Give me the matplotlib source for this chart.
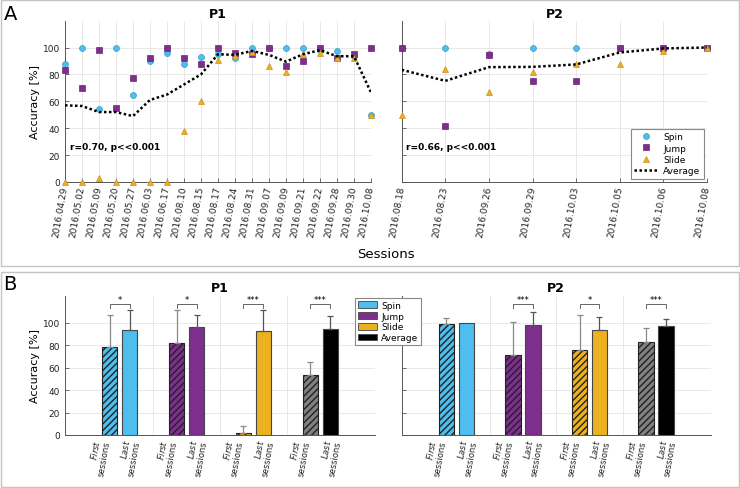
import numpy as np
import matplotlib.pyplot as plt
from matplotlib.patches import Patch, Rectangle

plt.rcParams['font.family'] = 'DejaVu Sans'
plt.rcParams['hatch.linewidth'] = 1.0

# ---- panel A: accuracy per session ----
p1_dates = ["2016.04.29", "2016.05.02", "2016.05.09", "2016.05.20", "2016.05.27",
            "2016.06.03", "2016.06.17", "2016.08.10", "2016.08.15", "2016.08.17",
            "2016.08.24", "2016.08.31", "2016.09.07", "2016.09.09", "2016.09.21",
            "2016.09.22", "2016.09.28", "2016.09.30", "2016.10.08"]
p1_spin = [87.4, 100, 54.5, 100, 65, 90, 95.8, 88, 93, 95, 92, 100, 100, 100, 100, 98, 97.5, 94, 50]
p1_jump = [83, 70, 98, 55, 77, 92, 100, 92, 88, 100, 96, 95, 100, 86, 90, 100, 92, 95, 100]
p1_slide = [0, 0, 3, 0, 0, 0, 0, 37.6, 60, 90.6, 94, 97, 86, 82, 95, 96, 92, 92.5, 50]
p1_avg = [57, 56.5, 52, 52, 49, 61, 65, 72.5, 80, 95, 94.5, 97.5, 94.5, 89.5, 95, 98, 93.5, 93.5, 66.6]

p2_dates = ["2016.08.18", "2016.08.23", "2016.09.26", "2016.09.29",
            "2016.10.03", "2016.10.05", "2016.10.06", "2016.10.08"]
p2_spin = [100, 100, 95.5, 100, 100, 100, 100, 100]
p2_jump = [100, 41.3, 94.3, 75, 75, 100, 100, 100]
p2_slide = [49.8, 84, 66.6, 82, 87.6, 87.4, 97.3, 99.5]
p2_avg = [83.4, 75.2, 85.4, 85.6, 87.4, 96.3, 99.3, 100]

p1_corr = "r=0.70, p<<0.001"
p2_corr = "r=0.66, p<<0.001"

# ---- panel B: first vs last sessions ----
tasks = ["Spin", "Jump", "Slide", "Average"]
p1_first = [78.4, 81.7, 1.5, 53.8]
p1_first_sd = [28.6, 29.8, 6.2, 11.2]
p1_last = [93.5, 96.4, 92.3, 94.0]
p1_last_sd = [18.0, 10.6, 19.2, 12.0]
p1_sig = ["*", "*", "***", "***"]

p2_first = [99.1, 71.6, 76.0, 82.5]
p2_first_sd = [4.9, 29.3, 31.0, 13.1]
p2_last = [100, 97.9, 93.2, 97.3]
p2_last_sd = [0, 11.3, 11.8, 6.0]
p2_sig = ["", "***", "*", "***"]

colors = {"Spin": "#4DBEEE", "Jump": "#7E2F8E", "Slide": "#EDB120", "Average": "#000000"}
first_colors = {"Spin": "#4DBEEE", "Jump": "#7E2F8E", "Slide": "#EDB120", "Average": "#808080"}

W, H = 740, 489
fig = plt.figure(figsize=(W / 100, H / 100), dpi=100)


def fx(px):
    return px / W


def fy(py):
    return 1 - py / H


def style_axes(ax):
    for s in ["top", "right"]:
        ax.spines[s].set_visible(False)
    for s in ["left", "bottom"]:
        ax.spines[s].set_color("#555555")
        ax.spines[s].set_linewidth(0.7)
    ax.tick_params(direction="in", length=3, width=0.6, color="#555555",
                   labelsize=6.5, labelcolor="#222222")
    ax.set_axisbelow(True)


def session_panel(left, right, title, dates, spin, jump, slide, avg, corr, ylabels):
    ax = fig.add_axes([fx(left), fy(183), fx(right) - fx(left), fy(21.6) - fy(183)])
    style_axes(ax)
    x = np.arange(len(dates))
    ax.grid(True, color="#e4e4e4", linewidth=0.6)
    ax.plot(x, spin, "o", ms=4.3, mfc=colors["Spin"], mec="#3a9cc4", mew=0.5,
            clip_on=False, zorder=3, label="Spin")
    ax.plot(x, jump, "s", ms=4.0, mfc=colors["Jump"], mec="#6a2478", mew=0.5,
            clip_on=False, zorder=3, label="Jump")
    ax.plot(x, slide, "^", ms=4.5, mfc=colors["Slide"], mec="#c9921a", mew=0.5,
            clip_on=False, zorder=3, label="Slide")
    ax.plot(x, avg, color="black", linestyle=(0, (1, 1)), linewidth=1.8,
            zorder=4, label="Average")
    ax.set_xlim(0, len(dates) - 1)
    ax.set_ylim(0, 120)
    ax.set_yticks(range(0, 101, 20))
    if not ylabels:
        ax.tick_params(labelleft=False)
    ax.set_xticks(x)
    ax.set_xticklabels(dates, fontsize=6.5)
    ax.tick_params(axis="x", pad=3)
    plt.setp(ax.get_xticklabels(), rotation=80, ha="right", va="center",
             rotation_mode="anchor")
    ax.text(0.016 if ylabels else 0.015, 0.217, corr, transform=ax.transAxes,
            fontsize=6.5, fontweight="bold", va="center")
    fig.text(fx((left + right) / 2), fy(14), title, ha="center", va="center",
             fontsize=9, fontweight="bold")
    return ax


ax1 = session_panel(65, 371, "P1", p1_dates, p1_spin, p1_jump, p1_slide, p1_avg, p1_corr, True)
ax2 = session_panel(401.7, 707, "P2", p2_dates, p2_spin, p2_jump, p2_slide, p2_avg, p2_corr, False)

leg = ax2.legend(loc="lower right", bbox_to_anchor=(0.99, 0.02), borderaxespad=0,
                 fontsize=6.5, fancybox=False, edgecolor="#888888", framealpha=1,
                 handlelength=2.6, labelspacing=0.25, borderpad=0.4, handletextpad=0.6)
leg.get_frame().set_linewidth(0.8)

fig.text(fx(35), fy(102), "Accuracy [%]", rotation=90, ha="center", va="center", fontsize=8)
fig.text(fx(385.5), fy(254), "Sessions", ha="center", va="center", fontsize=9.5)


def bar_panel(left, right, title, first, first_sd, last, last_sd, sig, ylabels):
    ax = fig.add_axes([fx(left), fy(436), fx(right) - fx(left), fy(296.7) - fy(436)])
    style_axes(ax)
    ax.grid(True, axis="y", color="#e4e4e4", linewidth=0.6)
    g = np.arange(len(tasks))
    for i, t in enumerate(tasks):
        ax.bar(g[i] - 0.15, first[i], width=0.23, color=first_colors[t],
               edgecolor="#222222", linewidth=0.8, hatch="/////", zorder=2)
        ax.bar(g[i] + 0.15, last[i], width=0.23, color=colors[t],
               edgecolor="#444444", linewidth=0.8, zorder=2)
        if first_sd[i] > 0:
            ax.errorbar(g[i] - 0.15, first[i], yerr=[[0], [first_sd[i]]], fmt="none",
                        ecolor="#888888", elinewidth=0.9, capsize=2.5, capthick=0.9, zorder=3)
        if last_sd[i] > 0:
            ax.errorbar(g[i] + 0.15, last[i], yerr=[[0], [last_sd[i]]], fmt="none",
                        ecolor="#555555", elinewidth=0.9, capsize=2.5, capthick=0.9, zorder=3)
        if sig[i]:
            ax.plot([g[i] - 0.15, g[i] - 0.15, g[i] + 0.15, g[i] + 0.15],
                    [113, 116.5, 116.5, 113], color="#666666", linewidth=0.7)
            ax.text(g[i], 117, sig[i], ha="center", va="bottom", fontsize=6)
    for sep in g[:-1] + 0.5:
        ax.axvline(sep, color="#e4e4e4", linewidth=0.6, zorder=0)
    ax.set_xlim(-0.82, 3.82)
    ax.set_ylim(0, 124)
    ax.set_yticks(range(0, 101, 20))
    if not ylabels:
        ax.tick_params(labelleft=False)
    # label anchors sit a bit off the bar centres, as in the original
    ticks = np.sort(np.concatenate([g - 0.32, g + 0.135]))
    ax.set_xticks(ticks)
    ax.set_xticklabels(["$\\it{First}$\nsessions", "$\\it{Last}$\nsessions"] * len(tasks),
                       fontsize=6)
    ax.tick_params(axis="x", length=0, pad=2)
    plt.setp(ax.get_xticklabels(), rotation=80, ha="center", va="top",
             multialignment="right", linespacing=1.05)
    fig.text(fx((left + right) / 2), fy(289), title, ha="center", va="center",
             fontsize=9, fontweight="bold")
    return ax


bx1 = bar_panel(65, 375, "P1", p1_first, p1_first_sd, p1_last, p1_last_sd, p1_sig, True)
bx2 = bar_panel(401.7, 710.7, "P2", p2_first, p2_first_sd, p2_last, p2_last_sd, p2_sig, False)

fig.text(fx(35), fy(366), "Accuracy [%]", rotation=90, ha="center", va="center", fontsize=8)

handles = [Patch(facecolor=colors[t], edgecolor="#444444", linewidth=0.6) for t in tasks]
leg2 = fig.legend(handles, tasks, loc="upper left", bbox_to_anchor=(fx(355), fy(299)),
                  borderaxespad=0, fontsize=6.5, fancybox=False, edgecolor="#888888",
                  framealpha=1, handlelength=2.1, handleheight=0.8, labelspacing=0.2,
                  borderpad=0.3, handletextpad=0.5)
leg2.get_frame().set_linewidth(0.8)

# panel frames and letters
fig.patches.append(Rectangle((fx(1), fy(267)), fx(738), fy(1) - fy(267), transform=fig.transFigure,
                             fill=False, edgecolor="#c4c4c4", linewidth=1.0))
fig.patches.append(Rectangle((fx(1), fy(488)), fx(738), fy(273) - fy(488), transform=fig.transFigure,
                             fill=False, edgecolor="#c4c4c4", linewidth=1.0))
fig.text(fx(4), fy(14), "A", fontsize=14, va="center", ha="left")
fig.text(fx(3), fy(285), "B", fontsize=14, va="center", ha="left")

fig.savefig("out.png", dpi=100)
